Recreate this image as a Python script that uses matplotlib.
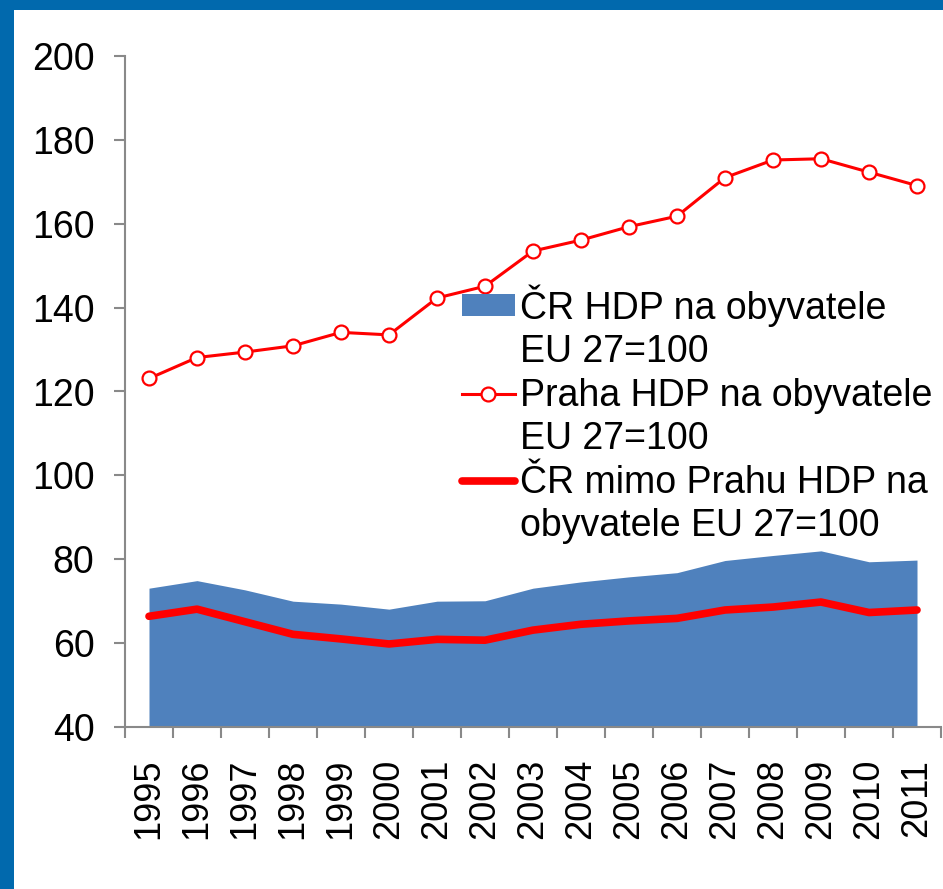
import numpy as np
import matplotlib.pyplot as plt
from matplotlib.patches import Rectangle, Patch
from matplotlib.lines import Line2D

plt.rcParams['font.family'] = ['Liberation Sans', 'DejaVu Sans']

# HDP na obyvatele, EU 27 = 100
years = ['1995', '1996', '1997', '1998', '1999', '2000', '2001', '2002', '2003',
         '2004', '2005', '2006', '2007', '2008', '2009', '2010', '2011']
cr = [73.1, 74.9, 72.7, 70.0, 69.3, 68.1, 70.0, 70.1, 73.1,
      74.6, 75.8, 76.8, 79.7, 80.9, 82.0, 79.4, 79.8]
praha = [123.1, 128.1, 129.4, 130.9, 134.1, 133.5, 142.3, 145.1, 153.5,
         156.1, 159.3, 161.8, 171.0, 175.2, 175.5, 172.3, 169.1]
mimo = [66.4, 68.1, 65.1, 62.1, 61.0, 59.8, 60.9, 60.7, 63.1,
        64.5, 65.3, 65.9, 67.9, 68.6, 69.8, 67.3, 67.9]

lab_cr = ['ČR HDP na obyvatele', 'EU 27=100']
lab_praha = ['Praha HDP na obyvatele', 'EU 27=100']
lab_mimo = ['ČR mimo Prahu HDP na', 'obyvatele EU 27=100']

blue = '#4F81BD'
red = '#FF0000'
frame = '#0169AD'
grey = '#898989'

fig = plt.figure(figsize=(9.43, 8.89), dpi=100)
fig.patch.set_facecolor(frame)
fig.patches.append(Rectangle((14 / 943, 0), 1, 1 - 10 / 889, transform=fig.transFigure,
                             facecolor='white', edgecolor='none', zorder=-1))

ax = fig.add_axes([125 / 943, 1 - 727 / 889, 816 / 943, 671 / 889])
ax.set_facecolor('none')
x = np.arange(len(years))

ax.fill_between(x, 0, cr, color=blue, lw=0, zorder=1)
ax.plot(x, praha, color=red, lw=2.2, marker='o', ms=10, mfc='white', mec=red,
        mew=1.6, zorder=3)
ax.plot(x, mimo, color=red, lw=5.5, solid_capstyle='round', zorder=2)

ax.set_xlim(-0.5, len(years) - 0.5)
ax.set_ylim(40, 200)
ax.set_yticks(np.arange(40, 201, 20))
ax.set_xticks(x)
ax.set_xticklabels(years, rotation=90)
ax.set_xticks(np.arange(-0.5, len(years)), minor=True)

for s in ['top', 'right']:
    ax.spines[s].set_visible(False)
for s in ['left', 'bottom']:
    ax.spines[s].set_color(grey)
    ax.spines[s].set_linewidth(1.5)

ax.tick_params(axis='y', length=8, width=1.5, color=grey, labelsize=27, pad=14)
ax.tick_params(axis='x', which='major', length=0, labelsize=26, pad=23)
ax.tick_params(axis='x', which='minor', length=8, width=1.5, color=grey)

blank = Line2D([], [], color='none')
handles = [Patch(facecolor=blue, edgecolor='none'), blank,
           Line2D([], [], color=red, lw=2.2, marker='o', ms=10, mfc='white', mec=red, mew=1.6), blank,
           Line2D([], [], color=red, lw=5.5, solid_capstyle='round'), blank]
labels = [lab_cr[0], lab_cr[1], lab_praha[0], lab_praha[1], lab_mimo[0], lab_mimo[1]]
leg = ax.legend(handles, labels, loc='upper left', bbox_to_anchor=(0.413, 0.66),
                frameon=False, fontsize=27, handlelength=1.4, handleheight=0.52,
                handletextpad=0.15, labelspacing=0.2, borderpad=0, borderaxespad=0)

fig.savefig('out.png', dpi=100, facecolor=fig.get_facecolor())
